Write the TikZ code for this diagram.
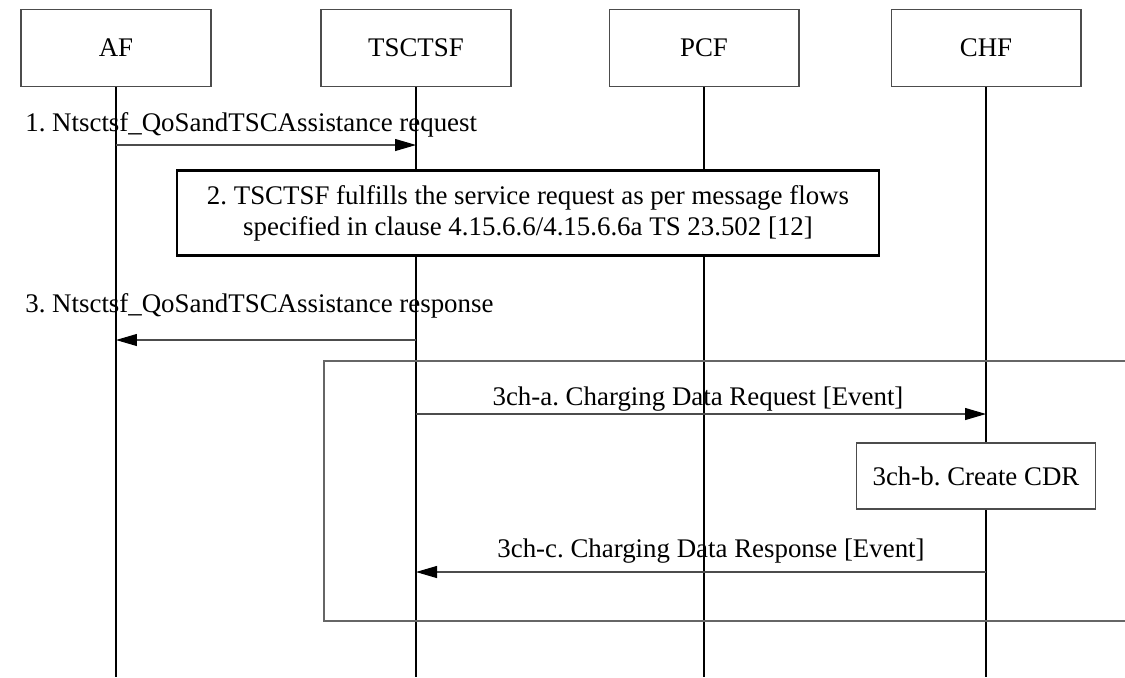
\documentclass[tikz,border=0pt]{standalone}
\usepackage{fontspec}
\setmainfont{Liberation Serif}
\usepackage{tikz}
\usetikzlibrary{arrows.meta,positioning}
\frenchspacing

\begin{document}
\begin{tikzpicture}[
    x=0.02cm, y=-0.02cm,
    every node/.style={font=\fontsize{15.3}{17.6}\selectfont},
    entity/.style={rectangle, draw=black!70, line width=0.6pt, minimum width=3.8cm, minimum height=1.54cm, align=center},
    procbox/.style={rectangle, draw=black, line width=1.2pt, fill=white, align=center, minimum width=14.06cm, minimum height=1.7cm},
    localbox/.style={rectangle, draw=black!70, line width=0.6pt, fill=white, minimum width=4.78cm, minimum height=1.32cm},
    lifeline/.style={draw=black, line width=0.85pt},
    msg/.style={draw=black!70, line width=0.6pt, -{Triangle[length=0.42cm, width=0.24cm, color=black]}},
    frame/.style={draw=black!60, line width=0.6pt},
    lbl/.style={inner sep=0pt, anchor=base}
]
    \useasboundingbox (0,0) rectangle (1125,677);

    \node[entity] (af) at (116,48) {AF};
    \node[entity] (tsctsf) at (416,48) {TSCTSF};
    \node[entity] (pcf) at (704,48) {PCF};
    \node[entity] (chf) at (986,48) {CHF};

    \coordinate (bottom) at (0,677);
    \foreach \n in {af,tsctsf,pcf,chf}
        \draw[lifeline] (\n.south) -- (\n.south |- bottom);

    \coordinate (m1) at (0,145);
    \draw[msg] (af |- m1) -- (tsctsf |- m1);
    \node[lbl, anchor=base west] (m1lbl) at (25,131) {1. Ntsctsf\_QoSandTSCAssistance request};

    \node[procbox] (fulfil) at (528,213) {2. TSCTSF fulfills the service request as per message flows\\specified in clause 4.15.6.6/4.15.6.6a TS 23.502 [12]};

    \coordinate (m3) at (0,340);
    \draw[msg] (tsctsf |- m3) -- (af |- m3);
    \node[lbl, anchor=base west] (m3lbl) at (25,312) {3. Ntsctsf\_QoSandTSCAssistance response};

    \coordinate (frtl) at (324,361);
    \coordinate (frbl) at (324,621);
    \coordinate (frtr) at (1127,361);
    \coordinate (frbr) at (1127,621);
    \draw[frame] (frtr) -- (frtl) -- (frbl) -- (frbr);

    \coordinate (m4) at (0,414);
    \draw[msg] (tsctsf |- m4) -- (chf |- m4);
    \node[lbl] (m4lbl) at (698,405) {3ch-a. Charging Data Request [Event]};

    \node[localbox] (cdr) at (976,476) {3ch-b. Create CDR};

    \coordinate (m5) at (0,572);
    \draw[msg] (chf |- m5) -- (tsctsf |- m5);
    \node[lbl] (m5lbl) at (711,557) {3ch-c. Charging Data Response [Event]};
\end{tikzpicture}
\end{document}
